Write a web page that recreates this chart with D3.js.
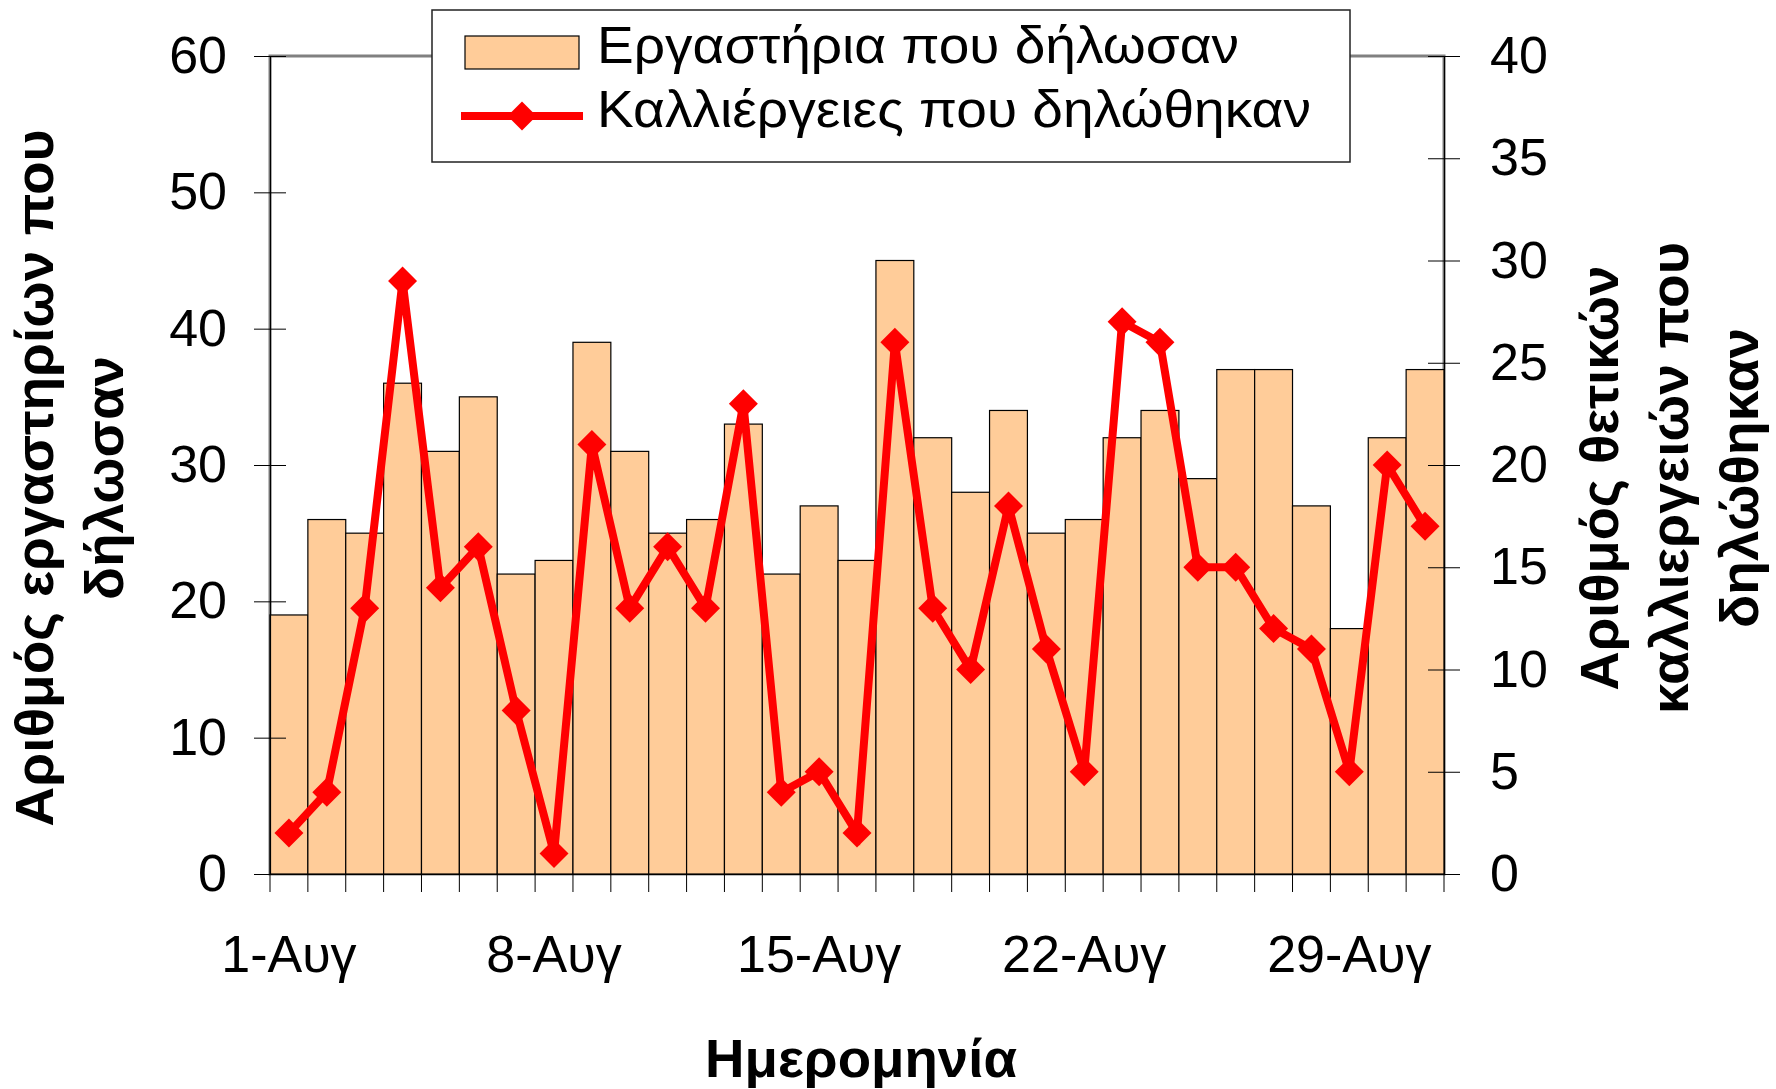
<!DOCTYPE html>
<html>
<head>
<meta charset="utf-8">
<script src="https://cdn.jsdelivr.net/npm/d3@7"></script>
<style>
  body { margin: 0; background: #fff; }
  svg { display: block; font-family: "Liberation Sans", Arial, sans-serif; }
</style>
</head>
<body>
<div id="viz"></div>
<script>
const days = ["1-Αυγ","2-Αυγ","3-Αυγ","4-Αυγ","5-Αυγ","6-Αυγ","7-Αυγ","8-Αυγ","9-Αυγ","10-Αυγ",
  "11-Αυγ","12-Αυγ","13-Αυγ","14-Αυγ","15-Αυγ","16-Αυγ","17-Αυγ","18-Αυγ","19-Αυγ","20-Αυγ",
  "21-Αυγ","22-Αυγ","23-Αυγ","24-Αυγ","25-Αυγ","26-Αυγ","27-Αυγ","28-Αυγ","29-Αυγ","30-Αυγ","31-Αυγ"];
const labs = [19,26,25,36,31,35,22,23,39,31,25,26,33,22,27,23,45,32,28,34,25,26,32,34,29,37,37,27,18,32,37];
const cultures = [2,4,13,29,14,16,8,1,21,13,16,13,23,4,5,2,26,13,10,18,11,5,27,26,15,15,12,11,5,20,17];
const shownDays = ["1-Αυγ","8-Αυγ","15-Αυγ","22-Αυγ","29-Αυγ"];
const leftTicks = [0,10,20,30,40,50,60];
const rightTicks = [0,5,10,15,20,25,30,35,40];

const W = 1776, H = 1089;
const plot = {left: 270, right: 1444, top: 56, bottom: 874};

const svg = d3.select("#viz").append("svg")
    .attr("width", W)
    .attr("height", H);

const x = d3.scaleBand()
    .domain(days)
    .range([plot.left, plot.right])
    .padding(0);

const yL = d3.scaleLinear().domain([0, 60]).range([plot.bottom, plot.top]);
const yR = d3.scaleLinear().domain([0, 40]).range([plot.bottom, plot.top]);

// plot area frame (grey)
svg.append("rect")
    .attr("x", plot.left).attr("y", plot.top)
    .attr("width", plot.right - plot.left)
    .attr("height", plot.bottom - plot.top)
    .attr("fill", "none")
    .attr("stroke", "#808080")
    .attr("stroke-width", 3);

// bars
svg.selectAll("rect.bar")
    .data(labs)
    .enter().append("rect")
        .attr("class", "bar")
        .attr("x", (d, i) => x(days[i]))
        .attr("y", d => yL(d))
        .attr("width", x.bandwidth())
        .attr("height", d => yL(0) - yL(d))
        .attr("fill", "#FFCC99")
        .attr("stroke", "#000")
        .attr("stroke-width", 1.2);

// left axis
const gL = svg.append("g")
    .attr("transform", `translate(${plot.left},0)`)
    .call(d3.axisLeft(yL).tickValues(leftTicks).tickSize(16).tickPadding(27));
gL.selectAll(".tick line").attr("x2", 16).attr("x1", -16);
gL.select(".domain").attr("stroke", "#000").attr("stroke-width", 1.2);
gL.selectAll("text").attr("font-size", 52).attr("fill", "#000");

// right axis
const gR = svg.append("g")
    .attr("transform", `translate(${plot.right},0)`)
    .call(d3.axisRight(yR).tickValues(rightTicks).tickSize(16).tickPadding(30));
gR.selectAll(".tick line").attr("x1", -16).attr("x2", 16);
gR.select(".domain").attr("stroke", "#000").attr("stroke-width", 1.2);
gR.selectAll("text").attr("font-size", 52).attr("fill", "#000");

// bottom axis: labels
const gB = svg.append("g")
    .attr("transform", `translate(0,${plot.bottom})`)
    .call(d3.axisBottom(x).tickValues(shownDays).tickSize(0).tickPadding(61));
gB.select(".domain").attr("stroke", "#000").attr("stroke-width", 1.2);
gB.selectAll("text").attr("font-size", 52).attr("fill", "#000");

// bottom axis: category boundary ticks
svg.append("g").selectAll("line")
    .data(days.concat(["end"]))
    .enter().append("line")
        .attr("x1", (d, i) => i < days.length ? x(d) : plot.right)
        .attr("x2", (d, i) => i < days.length ? x(d) : plot.right)
        .attr("y1", plot.bottom)
        .attr("y2", plot.bottom + 18)
        .attr("stroke", "#000")
        .attr("stroke-width", 1);

// line series
const line = d3.line()
    .x((d, i) => x(days[i]) + x.bandwidth() / 2)
    .y(d => yR(d));

svg.append("path")
    .datum(cultures)
    .attr("d", line)
    .attr("fill", "none")
    .attr("stroke", "#FF0000")
    .attr("stroke-width", 8)
    .attr("stroke-linejoin", "miter");

const diamond = d3.symbol().type(d3.symbolSquare).size(420);
svg.selectAll("path.pt")
    .data(cultures)
    .enter().append("path")
        .attr("class", "pt")
        .attr("d", diamond)
        .attr("fill", "#FF0000")
        .attr("transform", (d, i) => `translate(${x(days[i]) + x.bandwidth() / 2},${yR(d)}) rotate(45)`);

// legend
const lg = svg.append("g");
lg.append("rect")
    .attr("x", 432).attr("y", 10)
    .attr("width", 918).attr("height", 152)
    .attr("fill", "#fff")
    .attr("stroke", "#222")
    .attr("stroke-width", 1.5);
lg.append("rect")
    .attr("x", 465).attr("y", 36)
    .attr("width", 114).attr("height", 33)
    .attr("fill", "#FFCC99")
    .attr("stroke", "#000")
    .attr("stroke-width", 1.2);
lg.append("text")
    .attr("x", 597).attr("y", 63)
    .attr("font-size", 52)
    .attr("textLength", 642)
    .attr("lengthAdjust", "spacingAndGlyphs")
    .text("Εργαστήρια που δήλωσαν");
lg.append("line")
    .attr("x1", 461).attr("x2", 583)
    .attr("y1", 116).attr("y2", 116)
    .attr("stroke", "#FF0000")
    .attr("stroke-width", 8);
lg.append("path")
    .attr("d", diamond)
    .attr("fill", "#FF0000")
    .attr("transform", "translate(522,116) rotate(45)");
lg.append("text")
    .attr("x", 597).attr("y", 127)
    .attr("font-size", 52)
    .attr("textLength", 714)
    .attr("lengthAdjust", "spacingAndGlyphs")
    .text("Καλλιέργειες που δηλώθηκαν");

// axis titles
svg.append("text")
    .attr("text-anchor", "middle")
    .attr("font-weight", "bold")
    .attr("font-size", 54)
    .attr("textLength", 312)
    .attr("lengthAdjust", "spacingAndGlyphs")
    .attr("x", 861).attr("y", 1077)
    .text("Ημερομηνία");

const leftTitle = ["Αριθμός εργαστηρίων που", "δήλωσαν"];
const leftLens = [697, 244];
svg.append("text")
    .attr("transform", "translate(53,478) rotate(-90)")
    .attr("text-anchor", "middle")
    .attr("font-weight", "bold")
    .attr("font-size", 54)
    .selectAll("tspan")
    .data(leftTitle)
    .enter().append("tspan")
        .attr("x", 0)
        .attr("dy", (d, i) => i === 0 ? 0 : 70)
        .attr("textLength", (d, i) => leftLens[i])
        .attr("lengthAdjust", "spacingAndGlyphs")
        .text(d => d);

const rightTitle = ["Αριθμός θετικών", "καλλιεργειών που", "δηλώθηκαν"];
const rightLens = [425, 472, 300];
svg.append("text")
    .attr("transform", "translate(1618,478) rotate(-90)")
    .attr("text-anchor", "middle")
    .attr("font-weight", "bold")
    .attr("font-size", 54)
    .selectAll("tspan")
    .data(rightTitle)
    .enter().append("tspan")
        .attr("x", 0)
        .attr("dy", (d, i) => i === 0 ? 0 : 70)
        .attr("textLength", (d, i) => rightLens[i])
        .attr("lengthAdjust", "spacingAndGlyphs")
        .text(d => d);
</script>
</body>
</html>
